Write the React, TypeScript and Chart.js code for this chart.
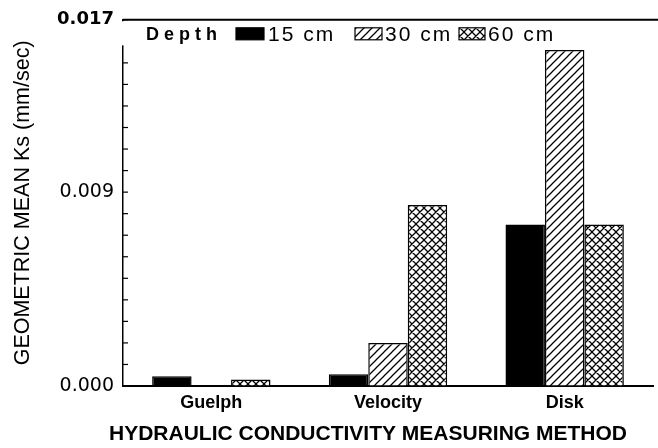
import React, { useEffect, useRef } from "react";
import { Chart, registerables } from "chart.js";

Chart.register(...registerables);

// ---- data ----
const categories = ["Guelph", "Velocity", "Disk"];
const seriesLabels = ["15 cm", "30 cm", "60 cm"];
const depth15 = [0.00045, 0.00055, 0.0075];
const depth30 = [0.00003, 0.002, 0.0156];
const depth60 = [0.0003, 0.0084, 0.0075];
const yLabelledTicks = [0, 0.009, 0.017];
const yMin = 0;
const yMax = 0.017;
const yStep = 0.001;
const yTitle = "GEOMETRIC MEAN Ks (mm/sec)";
const xTitle = "HYDRAULIC CONDUCTIVITY MEASURING METHOD";
const legendTitle = "Depth";

const SANS = "'Liberation Sans', Arial, sans-serif";
const WIDE = "'DejaVu Sans', sans-serif";

function makePattern(kind: "hatch" | "cross"): CanvasPattern | string {
  const s = 8;
  const c = document.createElement("canvas");
  c.width = s;
  c.height = s;
  const g = c.getContext("2d");
  if (!g) return "#fff";
  g.fillStyle = "#fff";
  g.fillRect(0, 0, s, s);
  g.strokeStyle = "#000";
  g.lineWidth = 1.25;
  g.beginPath();
  g.moveTo(-1, s + 1);
  g.lineTo(s + 1, -1);
  g.moveTo(-1, 1);
  g.lineTo(1, -1);
  g.moveTo(s - 1, s + 1);
  g.lineTo(s + 1, s - 1);
  if (kind === "cross") {
    g.moveTo(-1, -1);
    g.lineTo(s + 1, s + 1);
    g.moveTo(s - 1, -1);
    g.lineTo(s + 1, 1);
    g.moveTo(-1, s - 1);
    g.lineTo(1, s + 1);
  }
  g.stroke();
  const p = g.createPattern(c, "repeat");
  return p || "#fff";
}

export default function App() {
  const ref = useRef<HTMLCanvasElement | null>(null);

  useEffect(() => {
    const canvas = ref.current;
    if (!canvas) return;
    const hatch = makePattern("hatch");
    const cross = makePattern("cross");
    const fills: (string | CanvasPattern)[] = ["#000", hatch, cross];

    const decor = {
      id: "decor",
      afterDraw(chart: any) {
        const ctx: CanvasRenderingContext2D = chart.ctx;
        const area = chart.chartArea;
        const ys = chart.scales.y;
        ctx.save();
        // inward minor ticks
        ctx.strokeStyle = "#000";
        ctx.lineWidth = 1.2;
        ys.ticks.forEach((t: any) => {
          const py = ys.getPixelForValue(t.value);
          ctx.beginPath();
          ctx.moveTo(area.left, py);
          ctx.lineTo(area.left + 5, py);
          ctx.stroke();
        });
        // top rule
        ctx.lineWidth = 2;
        ctx.beginPath();
        ctx.moveTo(area.left, area.top);
        ctx.lineTo(chart.width, area.top);
        ctx.stroke();

        // legend band
        const ly = area.top + 14;
        ctx.fillStyle = "#fff";
        ctx.fillRect(area.left - 6, area.top + 1.5, chart.width - area.left + 6, 24);
        ctx.fillStyle = "#000";
        ctx.textBaseline = "middle";
        (ctx as any).letterSpacing = "5px";
        ctx.font = `bold 18px ${SANS}`;
        ctx.fillText(legendTitle, area.left + 23, ly + 1);
        (ctx as any).letterSpacing = "2px";
        ctx.font = `21px ${SANS}`;
        const boxes = [
          { x: area.left + 113, w: 28 },
          { x: area.left + 232, w: 27 },
          { x: area.left + 336, w: 26 },
        ];
        const textX = [area.left + 145, area.left + 262, area.left + 365];
        boxes.forEach((b, i) => {
          ctx.fillStyle = fills[i] as any;
          ctx.fillRect(b.x, ly - 6, b.w, 12);
          ctx.strokeStyle = "#000";
          ctx.lineWidth = 1.2;
          ctx.strokeRect(b.x, ly - 6, b.w, 12);
          ctx.fillStyle = "#000";
          ctx.fillText(seriesLabels[i], textX[i], ly + 1);
        });
        (ctx as any).letterSpacing = "0px";

        // x axis title
        ctx.font = `bold 21px ${SANS}`;
        ctx.textAlign = "center";
        ctx.fillText(xTitle, (area.left + area.right) / 2 - 20, chart.height - 14);
        ctx.restore();
      },
    };

    const chart = new Chart(canvas, {
      type: "bar",
      data: {
        labels: categories,
        datasets: [depth15, depth30, depth60].map((d, i) => ({
          label: seriesLabels[i],
          data: d,
          backgroundColor: fills[i] as any,
          borderColor: "#000",
          borderWidth: 1.5,
          categoryPercentage: 0.67,
          barPercentage: 1.0,
        })),
      },
      options: {
        animation: false,
        responsive: false,
        devicePixelRatio: 1,
        layout: { padding: { left: 8, right: 5, top: 19, bottom: 0 } },
        plugins: {
          legend: { display: false },
          tooltip: { enabled: false },
          title: { display: false },
        },
        scales: {
          x: {
            grid: { display: false, drawTicks: false },
            border: { color: "#000", width: 2 },
            ticks: {
              color: "#000",
              padding: 6,
              font: { family: SANS, size: 18, weight: "bold" },
            },
            afterFit: (s: any) => {
              s.height = 62;
            },
          },
          y: {
            min: yMin,
            max: yMax,
            afterBuildTicks: (s: any) => {
              const n = Math.round((yMax - yMin) / yStep);
              const arr = [];
              for (let k = 0; k <= n; k++) arr.push({ value: Number((yMin + k * yStep).toFixed(3)) });
              s.ticks = arr;
            },
            grid: { drawOnChartArea: false, drawTicks: false },
            border: { color: "#000", width: 1.5 },
            ticks: {
              autoSkip: false,
              color: "#000",
              padding: 9,
              callback: (v: any) => {
                const hit = yLabelledTicks.find((t) => Math.abs(t - Number(v)) < 1e-7);
                return hit === undefined ? "" : hit.toFixed(3);
              },
              font: (c: any) => {
                const v = c.tick ? c.tick.value : 0;
                return Math.abs(v - yMax) < 1e-7
                  ? { family: WIDE, size: 18, weight: "bold" }
                  : { family: WIDE, size: 19, weight: "normal" };
              },
            },
            title: {
              display: true,
              text: yTitle,
              color: "#000",
              font: { family: SANS, size: 21.5, weight: "normal" },
              padding: { top: 2, bottom: 0 },
            },
            afterFit: (s: any) => {
              s.width = 115;
            },
          },
        },
      } as any,
      plugins: [decor],
    });
    return () => chart.destroy();
  }, []);

  return (
    <div style={{ position: "fixed", left: 0, top: 0, width: 658, height: 448, background: "#fff" }}>
      <canvas ref={ref} width={658} height={448} />
    </div>
  );
}
